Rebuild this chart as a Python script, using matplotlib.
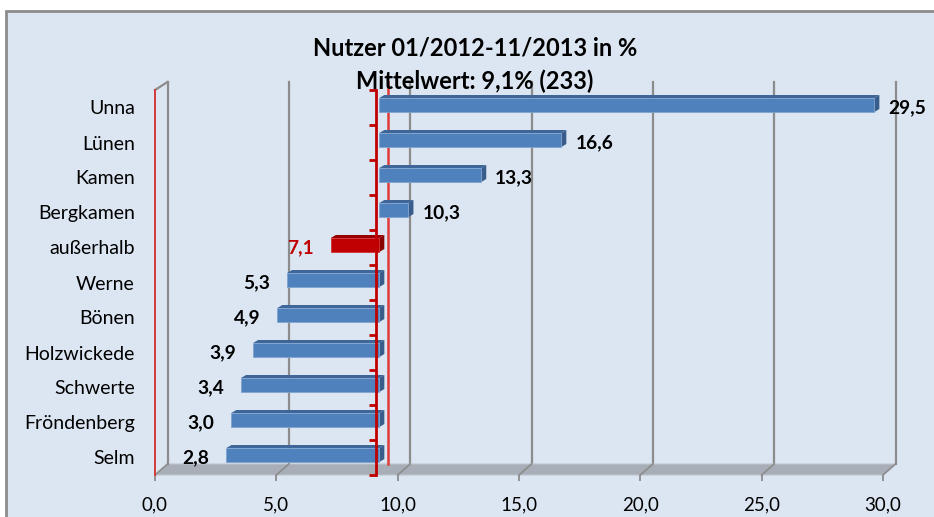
import matplotlib
matplotlib.use("Agg")
import matplotlib.pyplot as plt
from matplotlib.patches import Polygon, Rectangle

# =========================
# DATA
# =========================
categories = ["Unna", "Lünen", "Kamen", "Bergkamen", "außerhalb", "Werne",
              "Bönen", "Holzwickede", "Schwerte", "Fröndenberg", "Selm"]
values = [29.5, 16.6, 13.3, 10.3, 7.1, 5.3, 4.9, 3.9, 3.4, 3.0, 2.8]
highlight = "außerhalb"
mean_value = 9.1
x_ticks = [0, 5, 10, 15, 20, 25, 30]
title_lines = ["Nutzer 01/2012-11/2013 in %", "Mittelwert: 9,1% (233)"]

# =========================
# STYLE
# =========================
plt.rcParams["font.family"] = ["Lato", "DejaVu Sans"]

W, H = 934, 517
BG = "#dce6f2"
GRID = "#8c8c8c"
FLOOR = "#a8aeb7"
BLUE = ("#4f81bd", "#3e6699", "#385d8a")   # front, top, end
RED = ("#c00000", "#960000", "#8a0000")

fig = plt.figure(figsize=(W / 100, H / 100), dpi=100)
fig.patch.set_facecolor("white")
fig.patches.append(Rectangle((6 / W, -0.02), 1.1, (H - 11) / H + 0.02,
                             transform=fig.transFigure, facecolor=BG,
                             edgecolor=GRID, lw=2, zorder=-10))

# front plot area in pixels
L, R, T, B = 155, 883, 90, 475
ax = fig.add_axes([L / W, (H - B) / H, (R - L) / W, (B - T) / H])
ax.set_facecolor("none")
n = len(categories)
ax.set_xlim(0, 30)
ax.set_ylim(-0.5, n - 0.5)
sx = (R - L) / 30
sy = (B - T) / n


def off(px, py):
    return px / sx, py / sy


ybot, ytop = -0.5, n - 0.5
bx, by = off(12.5, 11)
_, top_back = off(0, 8)
top_back += ytop

# back wall gridlines and floor lines
for t in x_ticks[1:]:
    ax.plot([t + bx, t + bx], [ybot + by, top_back], color=GRID, lw=1.6,
            clip_on=False, zorder=1)
# floor
ax.add_patch(Polygon([(0, ybot), (30, ybot), (30 + bx, ybot + by), (bx, ybot + by)],
                     closed=True, facecolor=FLOOR, edgecolor="#bfc4cb", lw=0.8,
                     clip_on=False, zorder=1))
for t in x_ticks:
    ax.plot([t, t + bx], [ybot, ybot + by], color=GRID, lw=1.2,
            clip_on=False, zorder=1.5)

# left wall
ax.plot([bx, bx], [ybot + by, top_back], color=GRID, lw=1.6, clip_on=False, zorder=1)
ax.plot([0, bx], [ytop, top_back], color=GRID, lw=1.6, clip_on=False, zorder=1)
ax.plot([0, 0], [ybot, ytop], color="#d43a3a", lw=1.4, clip_on=False, zorder=2)

# back mean line
ax.plot([mean_value + bx] * 2, [ybot + by, top_back], color="#e03a3a", lw=1.8,
        clip_on=False, zorder=2)

# bars
fx, fy = off(3.5, 2.5)
kx, ky = off(8.5, 5.5)
hh = 0.2
for i, (cat, val) in enumerate(zip(categories, values)):
    y = n - 1 - i
    front, topc, endc = RED if cat == highlight else BLUE
    x0, x1 = min(mean_value, val), max(mean_value, val)
    yb, yt = y - hh + fy, y + hh + fy
    ax.add_patch(Polygon([(x0 + fx, yt), (x1 + fx, yt), (x1 + kx, yt - fy + ky),
                          (x0 + kx, yt - fy + ky)], closed=True, facecolor=topc,
                         edgecolor="none", zorder=3, clip_on=False))
    ax.add_patch(Polygon([(x1 + fx, yb), (x1 + fx, yt), (x1 + kx, yt - fy + ky),
                          (x1 + kx, yb - fy + ky)], closed=True, facecolor=endc,
                         edgecolor="none", zorder=3, clip_on=False))
    ax.add_patch(Rectangle((x0 + fx, yb), x1 - x0, yt - yb, facecolor=front,
                           edgecolor="#7fa3d0" if front == BLUE[0] else "#d03030",
                           lw=0.6, zorder=3.5, clip_on=False))
    label = f"{val:.1f}".replace(".", ",")
    color = RED[0] if cat == highlight else "black"
    if val >= mean_value:
        ax.text(x1 + kx + 9 / sx, y, label, ha="left", va="center",
                fontsize=13.8, fontweight="bold", color=color, zorder=5)
    else:
        ax.text(x0 + fx - 17 / sx, y, label, ha="right", va="center",
                fontsize=13.8, fontweight="bold", color=color, zorder=5)

# front category axis at the mean
ax.plot([mean_value, mean_value], [ybot, ytop], color=RED[0], lw=2,
        clip_on=False, zorder=4)
tick_len = 7 / sx
for k in range(n + 1):
    yy = k - 0.5
    ax.plot([mean_value - tick_len, mean_value], [yy, yy], color=RED[0], lw=2,
            clip_on=False, zorder=4, solid_capstyle="butt")

# axes, ticks
for s in ax.spines.values():
    s.set_visible(False)
ax.set_xticks(x_ticks)
ax.set_xticklabels([f"{t:.1f}".replace(".", ",") for t in x_ticks])
ax.tick_params(axis="x", direction="out", length=4.5, width=1.3, color=GRID,
               labelsize=13.5, pad=11)
ax.set_yticks(range(n))
ax.set_yticklabels(categories[::-1])
ax.tick_params(axis="y", length=0, labelsize=14, pad=14.5)

# title
fig.text(475 / W, 1 - 48 / H, title_lines[0], ha="center", va="center",
         fontsize=17, fontweight="bold")
fig.text(475 / W, 1 - 81 / H, title_lines[1], ha="center", va="center",
         fontsize=17, fontweight="bold")

fig.savefig("out.png", dpi=100, facecolor=fig.get_facecolor())
